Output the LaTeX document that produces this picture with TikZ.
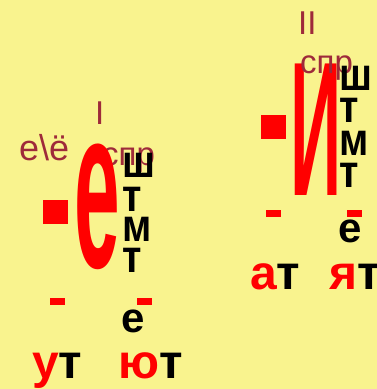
\documentclass[tikz,border=0pt]{standalone}
\usepackage{fontspec}
\setmainfont{Liberation Sans}
\usetikzlibrary{positioning}
\definecolor{slidebg}{HTML}{F9F38E}
\definecolor{tagred}{HTML}{9E2A3A}
\definecolor{markred}{HTML}{FF0000}
\newcommand{\narrow}[1]{\scalebox{0.86}[1]{#1}}

\begin{document}
\begin{tikzpicture}[x=1pt,y=-1pt,
  tag/.style={anchor=base west,inner sep=0pt,text=tagred,
              font=\fontsize{33}{33}\selectfont},
  bigletter/.style={anchor=base west,inner sep=0pt,text=markred},
  stem/.style={anchor=base west,inner sep=0pt,
               font=\bfseries\fontsize{46}{46}\selectfont},
  ending/.style={anchor=base west,inner sep=0pt,
                 font=\bfseries\fontsize{48}{48}\selectfont},
  dashbox/.style={rectangle,fill=markred,inner sep=0pt,draw=none},
  square/.style={dashbox,minimum width=25pt,minimum height=24pt},
  tick/.style={dashbox,minimum width=15pt,minimum height=7pt}
]

  % ---- Background ---------------------------------------------
  \fill[slidebg] (0,0) rectangle (377,389);
  \useasboundingbox (0,0) rectangle (377,389);

  % ---- First conjugation (left) -------------------------------
  \node[tag] (numI)  at (95,124)  {I};
  \node[tag,font=\fontsize{36}{36}\selectfont] (vowE) at (19,160) {е\textbackslash ё};
  \node[tag] (sprI)  at (102,165) {спр};

  \node[bigletter,font=\bfseries\fontsize{82}{82}\selectfont] (bigE) at (74,267)
    {\scalebox{1}[2.8]{е}};
  \node[square] (sqE) at (55.5,211.5) {};

  % consonant column
  \node[stem] (shE) at (122,177) {\narrow{ш}};
  \node[stem] (tE1) at (122,211) {\narrow{т}};
  \node[stem] (mE)  at (122,241) {\narrow{м}};
  \node[stem] (tE2) at (122,272) {\narrow{т}};

  % endings
  \node[tick] (tickU)  at (57,301.5)  {};
  \node[tick] (tickYu) at (144.5,301.5) {};
  \node[stem,font=\bfseries\fontsize{42}{42}\selectfont] (eE) at (121,332) {е};
  \node[ending] (endU)  at (32,378)  {\textcolor{markred}{у}т};
  \node[ending] (endYu) at (118,378) {\textcolor{markred}{ю}т};

  % ---- Second conjugation (right) -----------------------------
  \node[tag] (numII) at (298,34) {II};

  \node[bigletter,font=\bfseries\fontsize{75}{75}\selectfont] (bigI) at (290,195)
    {\scalebox{0.95}[2.55]{И}};
  \node[tag] (sprII) at (300,73) {спр};
  \node[square] (sqI) at (273,127) {};

  % consonant column
  \node[stem] (shI) at (339,90)  {\narrow{ш}};
  \node[stem] (tI1) at (339,122) {\narrow{т}};
  \node[stem] (mI)  at (339,155) {\narrow{м}};
  \node[stem] (tI2) at (339,187) {\narrow{т}};

  % endings
  \node[tick] (tickA)  at (273.5,213.5) {};
  \node[tick] (tickYa) at (354.5,213.5) {};
  \node[stem,font=\bfseries\fontsize{42}{42}\selectfont] (eI) at (338,242) {е};
  \node[ending] (endA)  at (250,289) {\textcolor{markred}{а}т};
  \node[ending] (endYa) at (329,289) {\textcolor{markred}{я}т};

\end{tikzpicture}
\end{document}
